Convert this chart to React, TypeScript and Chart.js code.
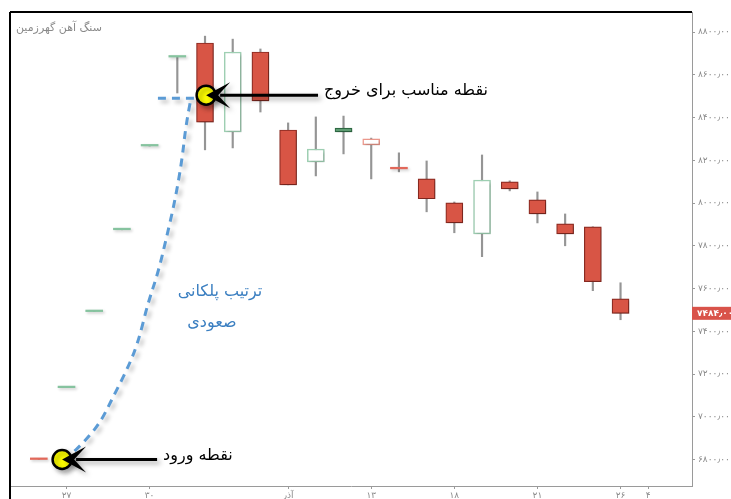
import { useEffect, useRef } from "react";
import { Chart, registerables } from "chart.js";

Chart.register(...registerables);

// ---------- data ----------
const candleIndex = [1, 2, 3, 4, 5, 6, 7, 8, 9, 10, 11, 12, 13, 14, 15, 16, 17, 18, 19, 20, 21, 22];
const opens = [6800, 7136, 7492, 7875, 8267, 8683, 8749, 8333, 8707, 8342, 8193, 8351, 8272, 8160, 8113, 8001, 7856, 8099, 8015, 7903, 7889, 7552];
const highs = [6800, 7136, 7492, 7875, 8267, 8683, 8781, 8767, 8721, 8375, 8403, 8407, 8304, 8235, 8197, 8005, 8225, 8104, 8052, 7949, 7889, 7627];
const lows = [6800, 7136, 7492, 7875, 8267, 8515, 8249, 8258, 8426, 8085, 8127, 8230, 8113, 8146, 7959, 7861, 7749, 8057, 7907, 7800, 7590, 7454];
const closes = [6800, 7136, 7492, 7875, 8267, 8683, 8379, 8707, 8478, 8085, 8253, 8333, 8300, 8160, 8020, 7907, 8108, 8066, 7949, 7856, 7632, 7484];

const xTickPositions = [2, 5, 10, 13, 16, 19, 22, 23];
const xTickLabels = ["۲۷", "۳۰", "آذر", "۱۳", "۱۸", "۲۱", "۲۶", "۴"];
const yTickValues = [6800, 7000, 7200, 7400, 7600, 7800, 8000, 8200, 8400, 8600, 8800];
const lastPrice = 7484;
const titleText = "سنگ آهن گهرزمین";

// annotation anchors (index, price)
const stairX = [2.13, 2.6, 3.21, 3.68, 4.18, 4.58, 4.94, 5.3, 5.59, 5.92, 6.17, 6.31, 6.46];
const stairY = [6821, 6877, 6970, 7092, 7219, 7345, 7532, 7672, 7827, 8014, 8201, 8365, 8467];
const stairTopX = [5.3, 6.71];
const stairTopY = [8490, 8490];
const entryPoint = { x: 1.84, y: 6800, tailX: 5.27, label: "نقطه ورود" };
const exitPoint = { x: 7.04, y: 8505, tailX: 11.08, label: "نقطه مناسب برای خروج" };
const stairLabelLines = ["ترتیب پلکانی", "صعودی"];
const stairLabelX = [7.54, 7.25];
const stairLabelY = [7583, 7438];

// ---------- helpers ----------
const faDigits = "۰۱۲۳۴۵۶۷۸۹";
const toFa = (s: string) => s.replace(/\d/g, (d) => faDigits[+d]);
const fmtPrice = (v: number) => toFa(v.toFixed(2)).replace(".", "٫");

const RED_FILL = "#d85545";
const RED_BORDER = "#8c2b22";
const GREEN_FILL = "#5e9c72";
const GREEN_BORDER = "#2f6b45";
const GREEN_HOLLOW = "#9fd0b3";
const RED_HOLLOW = "#ee9a8e";
const FLAT_GREEN = "#86c39f";
const FLAT_RED = "#e2685a";

function candleStyle(i: number) {
  const o = opens[i];
  const c = closes[i];
  const prev = i > 0 ? closes[i - 1] : Infinity;
  const up = c >= prev;
  if (o === c) {
    return { bg: up ? FLAT_GREEN : FLAT_RED, border: "rgba(0,0,0,0)", bw: 0 };
  }
  if (c > o) {
    return { bg: "#ffffff", border: up ? GREEN_HOLLOW : RED_HOLLOW, bw: 1.5 };
  }
  return { bg: up ? GREEN_FILL : RED_FILL, border: up ? GREEN_BORDER : RED_BORDER, bw: 1.2 };
}

const FONT = '"DejaVu Sans", sans-serif';

const shadowPlugin = {
  id: "bodyShadow",
  beforeDatasetDraw(chart: any, args: any) {
    if (args.index === 0) {
      const ctx = chart.ctx;
      ctx.save();
      ctx.shadowColor = "rgba(0,0,0,0.22)";
      ctx.shadowBlur = 3;
      ctx.shadowOffsetX = 1.5;
      ctx.shadowOffsetY = 1.5;
    }
  },
  afterDatasetDraw(chart: any, args: any) {
    if (args.index === 0) chart.ctx.restore();
  },
};

function drawArrow(ctx: CanvasRenderingContext2D, tipX: number, tipY: number, tailX: number) {
  ctx.beginPath();
  ctx.strokeStyle = "#000";
  ctx.lineWidth = 3;
  ctx.moveTo(tailX, tipY);
  ctx.lineTo(tipX + 14, tipY);
  ctx.stroke();
  ctx.beginPath();
  ctx.fillStyle = "#000";
  ctx.moveTo(tipX, tipY);
  ctx.lineTo(tipX + 24, tipY - 13);
  ctx.lineTo(tipX + 12, tipY);
  ctx.lineTo(tipX + 24, tipY + 13);
  ctx.closePath();
  ctx.fill();
}

function drawCircle(ctx: CanvasRenderingContext2D, x: number, y: number) {
  ctx.beginPath();
  ctx.arc(x, y, 9.5, 0, Math.PI * 2);
  ctx.fillStyle = "#ffff00";
  ctx.fill();
  ctx.lineWidth = 2.5;
  ctx.strokeStyle = "#000";
  ctx.stroke();
}

const annotationPlugin = {
  id: "annotations",
  afterDraw(chart: any) {
    const ctx: CanvasRenderingContext2D = chart.ctx;
    const xs = chart.scales.x;
    const ys = chart.scales.y;
    const px = (v: number) => xs.getPixelForValue(v);
    const py = (v: number) => ys.getPixelForValue(v);
    const area = chart.chartArea;

    // frame
    ctx.save();
    ctx.strokeStyle = "#000";
    ctx.lineWidth = 2;
    ctx.beginPath();
    ctx.moveTo(area.left, area.top);
    ctx.lineTo(area.right, area.top);
    ctx.moveTo(area.left, area.top);
    ctx.lineTo(area.left, chart.height);
    ctx.stroke();
    ctx.restore();

    // title
    ctx.save();
    ctx.font = `11px ${FONT}`;
    ctx.fillStyle = "#8a8a8a";
    ctx.direction = "rtl";
    ctx.textAlign = "left";
    ctx.textBaseline = "middle";
    ctx.fillText(titleText, area.left + 6, area.top + 16);
    ctx.restore();

    // dashed stair path
    ctx.save();
    ctx.shadowColor = "rgba(0,0,0,0.28)";
    ctx.shadowBlur = 4;
    ctx.shadowOffsetX = 3;
    ctx.shadowOffsetY = 3;
    ctx.strokeStyle = "#5b9bd5";
    ctx.lineWidth = 3;
    ctx.setLineDash([8, 6]);
    ctx.beginPath();
    ctx.moveTo(px(stairTopX[0]), py(stairTopY[0]));
    ctx.lineTo(px(stairTopX[1]), py(stairTopY[1]));
    ctx.stroke();
    const pts = stairX.map((x, i) => [px(x), py(stairY[i])]);
    ctx.beginPath();
    ctx.moveTo(pts[pts.length - 1][0], pts[pts.length - 1][1]);
    for (let i = pts.length - 2; i > 0; i--) {
      const mx = (pts[i][0] + pts[i - 1][0]) / 2;
      const my = (pts[i][1] + pts[i - 1][1]) / 2;
      ctx.quadraticCurveTo(pts[i][0], pts[i][1], mx, my);
    }
    ctx.lineTo(pts[0][0], pts[0][1]);
    ctx.stroke();
    ctx.restore();

    // points + arrows
    for (const p of [entryPoint, exitPoint]) {
      const cx = px(p.x);
      const cy = py(p.y);
      ctx.save();
      ctx.shadowColor = "rgba(0,0,0,0.35)";
      ctx.shadowBlur = 5;
      ctx.shadowOffsetX = 3;
      ctx.shadowOffsetY = 3;
      drawCircle(ctx, cx, cy);
      drawArrow(ctx, cx, cy, px(p.tailX));
      ctx.restore();
      ctx.save();
      ctx.font = `16px ${FONT}`;
      ctx.fillStyle = "#000";
      ctx.direction = "rtl";
      ctx.textAlign = "left";
      ctx.textBaseline = "middle";
      ctx.fillText(p.label, px(p.tailX) + 6, cy - 4);
      ctx.restore();
    }

    // blue stair label
    ctx.save();
    ctx.font = `16px ${FONT}`;
    ctx.fillStyle = "#3b7fc1";
    ctx.direction = "rtl";
    ctx.textAlign = "center";
    ctx.textBaseline = "middle";
    stairLabelLines.forEach((t, i) => ctx.fillText(t, px(stairLabelX[i]), py(stairLabelY[i])));
    ctx.restore();

    // last price tag
    const ly = py(lastPrice);
    ctx.save();
    ctx.fillStyle = "#d9534a";
    ctx.fillRect(area.right, ly - 6.5, chart.width - area.right, 13);
    ctx.fillStyle = "#fff";
    ctx.font = `bold 9px ${FONT}`;
    ctx.textAlign = "left";
    ctx.textBaseline = "middle";
    ctx.fillText(fmtPrice(lastPrice), area.right + 5, ly + 0.5);
    ctx.restore();
  },
};

export default function App() {
  const ref = useRef<HTMLCanvasElement | null>(null);

  useEffect(() => {
    if (!ref.current) return;
    const styles = candleIndex.map((_, i) => candleStyle(i));
    const chart = new Chart(ref.current, {
      type: "bar",
      data: {
        datasets: [
          {
            label: "body",
            data: candleIndex.map((x, i) => ({ x, y: [opens[i], closes[i]] })) as any,
            backgroundColor: styles.map((s) => s.bg),
            borderColor: styles.map((s) => s.border),
            borderWidth: styles.map((s) => s.bw) as any,
            borderSkipped: false,
            barThickness: 17,
            minBarLength: 1.6,
            grouped: false,
          } as any,
          {
            label: "wick",
            data: candleIndex.map((x, i) => ({ x, y: [lows[i], highs[i]] })) as any,
            backgroundColor: "#959595",
            borderWidth: 0,
            barThickness: 1.5,
            grouped: false,
          } as any,
        ],
      },
      options: {
        animation: false,
        responsive: false,
        layout: { padding: { left: 10, top: 12, right: 0, bottom: 0 } },
        plugins: { legend: { display: false }, tooltip: { enabled: false }, title: { display: false } },
        scales: {
          x: {
            type: "linear",
            offset: false,
            min: -0.04,
            max: 24.58,
            afterBuildTicks: (s: any) => {
              s.ticks = xTickPositions.map((v) => ({ value: v }));
            },
            afterFit: (s: any) => {
              s.height = 13;
            },
            ticks: {
              autoSkip: false,
              maxRotation: 0,
              padding: 1,
              color: "#8a8a8a",
              font: { size: 9, family: FONT },
              callback: (_v: any, i: number) => xTickLabels[i],
            },
            grid: { offset: false, drawOnChartArea: false, drawTicks: true, tickLength: 3, color: "#9a9a9a" },
            border: { display: true, color: "#9a9a9a" },
          },
          y: {
            type: "linear",
            position: "right",
            min: 6676,
            max: 8894,
            afterBuildTicks: (s: any) => {
              s.ticks = yTickValues.map((v) => ({ value: v }));
            },
            afterFit: (s: any) => {
              s.width = 39;
            },
            ticks: {
              padding: 3,
              color: "#8a8a8a",
              font: { size: 9, family: FONT },
              callback: (v: any) => fmtPrice(Number(v)),
            },
            grid: { offset: false, drawOnChartArea: false, drawTicks: true, tickLength: 3, color: "#9a9a9a" },
            border: { display: true, color: "#9a9a9a" },
          },
        },
      } as any,
      plugins: [shadowPlugin, annotationPlugin],
    });
    return () => chart.destroy();
  }, []);

  return (
    <div style={{ position: "fixed", left: 0, top: 0, width: 731, height: 499, background: "#fff" }}>
      <canvas ref={ref} width={731} height={499} style={{ display: "block" }} />
    </div>
  );
}
